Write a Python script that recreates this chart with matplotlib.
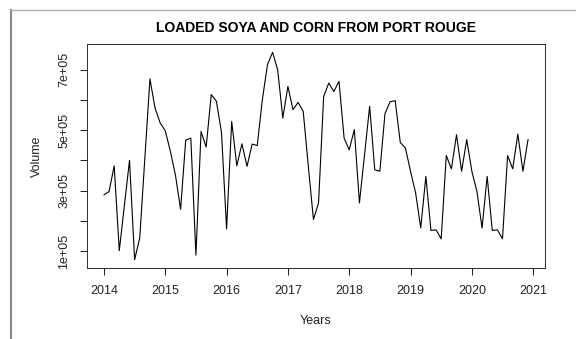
import numpy as np
import matplotlib.pyplot as plt
from matplotlib.lines import Line2D

# Monthly loaded volume, Jan 2014 .. Dec 2020 (units of 1e5)
start_year = 2014
vol_2014 = [2.86, 2.97, 3.82, 1.01, 2.51, 4.00, 0.71, 1.43, 4.06, 6.70, 5.73, 5.24]
vol_2015 = [4.98, 4.30, 3.50, 2.38, 4.67, 4.74, 0.86, 4.96, 4.44, 6.18, 5.96, 4.93]
vol_2016 = [1.73, 5.29, 3.82, 4.55, 3.80, 4.54, 4.49, 6.01, 7.17, 7.58, 7.00, 5.40]
vol_2017 = [6.45, 5.68, 5.92, 5.62, 3.80, 2.04, 2.59, 6.12, 6.56, 6.28, 6.62, 4.74]
vol_2018 = [4.35, 5.02, 2.59, 4.19, 5.79, 3.69, 3.64, 5.55, 5.94, 5.98, 4.59, 4.41]
vol_2019 = [3.64, 2.92, 1.76, 3.47, 1.68, 1.70, 1.40, 4.16, 3.72, 4.85, 3.64, 4.69]
vol_2020 = [3.64, 2.97, 1.76, 3.47, 1.68, 1.70, 1.40, 4.16, 3.72, 4.87, 3.64, 4.69]

x_ticks = [2014, 2015, 2016, 2017, 2018, 2019, 2020, 2021]
y_ticks = [1e5, 2e5, 3e5, 4e5, 5e5, 6e5, 7e5]
y_tick_labels = ["1e+05", "", "3e+05", "", "5e+05", "", "7e+05"]

volume = np.array(vol_2014 + vol_2015 + vol_2016 + vol_2017
                  + vol_2018 + vol_2019 + vol_2020) * 1e5
t = start_year + np.arange(len(volume)) / 12.0

plt.rcParams['font.family'] = ['Liberation Sans', 'DejaVu Sans']

fig = plt.figure(figsize=(5.76, 3.39), dpi=100)
ax = fig.add_axes([87 / 576, 1 - 268 / 339, 458 / 576, 224 / 339])

ax.plot(t, volume, color="black", linewidth=0.8)

# R style 4% padding on both axes
tr = t.max() - t.min()
vr = volume.max() - volume.min()
ax.set_xlim(t.min() - 0.04 * tr, t.max() + 0.04 * tr)
ax.set_ylim(volume.min() - 0.04 * vr, volume.max() + 0.04 * vr)

ax.set_xticks(x_ticks)
ax.set_xticklabels([str(x) for x in x_ticks])
ax.set_yticks(y_ticks)
ax.set_yticklabels(y_tick_labels, rotation=90, va="center")
ax.tick_params(direction="out", length=5, width=0.75, labelsize=9,
               pad=7, colors="#222222")

for s in ax.spines.values():
    s.set_linewidth(0.75)
    s.set_color("#333333")

ax.set_title("LOADED SOYA AND CORN FROM PORT ROUGE", fontsize=10,
             fontweight="bold", pad=9)
ax.set_xlabel("Years", fontsize=9, labelpad=13, color="#222222")
ax.set_ylabel("Volume", fontsize=9, labelpad=11, color="#222222")

# screenshot frame edges
fig.add_artist(Line2D([11 / 576, 11 / 576], [0, 1 - 10 / 339],
                      transform=fig.transFigure, color="#8a8a8a", lw=1.5))
fig.add_artist(Line2D([11 / 576, 1], [1 - 10 / 339, 1 - 10 / 339],
                      transform=fig.transFigure, color="#b0b0b0", lw=1.0))

fig.savefig("out.png", dpi=100)
